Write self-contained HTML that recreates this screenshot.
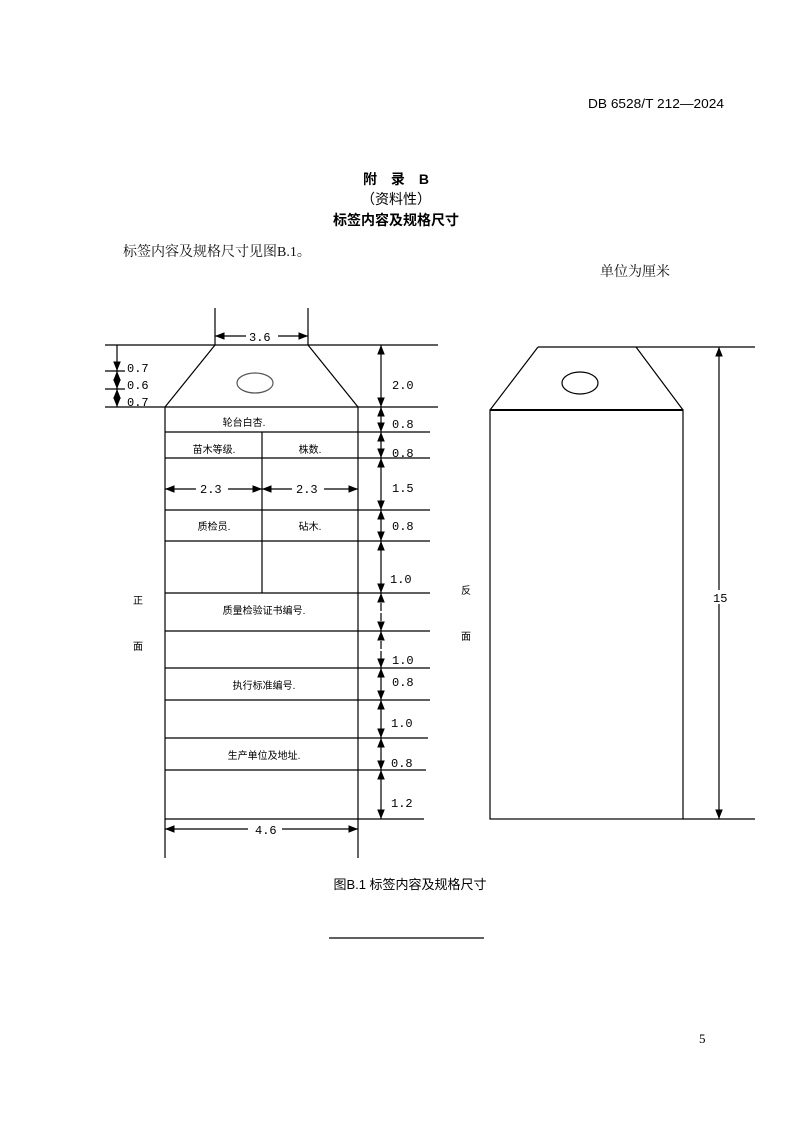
<!DOCTYPE html>
<html><head><meta charset="utf-8"><style>
html,body{margin:0;padding:0;background:#fff;}
svg{display:block;font-family:"Liberation Sans","Noto Sans CJK SC",sans-serif;}
.m{font-family:"Liberation Mono","Noto Sans CJK SC",monospace;}
.s{font-family:"Liberation Serif","Noto Serif CJK SC",serif;}
</style></head><body>
<svg width="793" height="1122" viewBox="0 0 793 1122" xmlns="http://www.w3.org/2000/svg">
<defs>
<marker id="a" viewBox="0 0 10 10" refX="10" refY="5" markerWidth="8" markerHeight="8" orient="auto-start-reverse"><path d="M0,1 L10,5 L0,9 z" fill="#000"/></marker>
</defs>
<text x="724" y="108" font-size="13" text-anchor="end" fill="#000" textLength="136" lengthAdjust="spacingAndGlyphs">DB 6528/T 212—2024</text>
<text x="396" y="184" font-size="14" text-anchor="middle" font-weight="bold">附　录　B</text>
<text x="396" y="204" font-size="14" text-anchor="middle">（资料性）</text>
<text x="396" y="225" font-size="14" text-anchor="middle" font-weight="bold">标签内容及规格尺寸</text>
<text x="123" y="256" font-size="14" class="s" fill="#111">标签内容及规格尺寸见图B.1。</text>
<text x="600" y="276" font-size="14" class="s" fill="#111">单位为厘米</text>

<g stroke="#000" stroke-width="1.2" fill="none">
<line x1="105" y1="345" x2="438" y2="345"/>
<line x1="215" y1="308" x2="215" y2="345"/>
<line x1="308" y1="308" x2="308" y2="345"/>
<line x1="215" y1="345" x2="165" y2="407"/>
<line x1="308" y1="345" x2="358" y2="407"/>
<line x1="105" y1="407" x2="438" y2="407"/>
<line x1="165" y1="407" x2="165" y2="858"/>
<line x1="358" y1="407" x2="358" y2="858"/>
<line x1="262" y1="432" x2="262" y2="593"/>
<line x1="165" y1="432" x2="430" y2="432"/>
<line x1="165" y1="458" x2="430" y2="458"/>
<line x1="165" y1="510" x2="430" y2="510"/>
<line x1="165" y1="541" x2="430" y2="541"/>
<line x1="165" y1="593" x2="430" y2="593"/>
<line x1="165" y1="631" x2="430" y2="631"/>
<line x1="165" y1="668" x2="430" y2="668"/>
<line x1="165" y1="700" x2="430" y2="700"/>
<line x1="165" y1="738" x2="428" y2="738"/>
<line x1="165" y1="770" x2="426" y2="770"/>
<line x1="165" y1="819" x2="424" y2="819"/>
<line x1="105" y1="371" x2="125" y2="371"/>
<line x1="105" y1="389" x2="125" y2="389"/>
<ellipse cx="255" cy="383" rx="18" ry="10" stroke="#555"/>
<line x1="215" y1="336" x2="308" y2="336" marker-start="url(#a)" marker-end="url(#a)"/>
<line x1="165" y1="489" x2="262" y2="489" marker-start="url(#a)" marker-end="url(#a)"/>
<line x1="262" y1="489" x2="358" y2="489" marker-start="url(#a)" marker-end="url(#a)"/>
<line x1="165" y1="829" x2="358" y2="829" marker-start="url(#a)" marker-end="url(#a)"/>
<line x1="117" y1="345" x2="117" y2="371" marker-end="url(#a)"/>
<line x1="117" y1="371" x2="117" y2="389" marker-start="url(#a)" marker-end="url(#a)"/>
<line x1="117" y1="389" x2="117" y2="407" marker-start="url(#a)" marker-end="url(#a)"/>
<line x1="381" y1="345" x2="381" y2="407" marker-start="url(#a)" marker-end="url(#a)"/>
<line x1="381" y1="407" x2="381" y2="432" marker-start="url(#a)" marker-end="url(#a)"/>
<line x1="381" y1="432" x2="381" y2="458" marker-start="url(#a)" marker-end="url(#a)"/>
<line x1="381" y1="458" x2="381" y2="510" marker-start="url(#a)" marker-end="url(#a)"/>
<line x1="381" y1="510" x2="381" y2="541" marker-start="url(#a)" marker-end="url(#a)"/>
<line x1="381" y1="541" x2="381" y2="593" marker-start="url(#a)" marker-end="url(#a)"/>
<line x1="381" y1="593" x2="381" y2="631" marker-start="url(#a)" marker-end="url(#a)" stroke-dasharray="8,2"/>
<line x1="381" y1="631" x2="381" y2="668" marker-start="url(#a)" marker-end="url(#a)" stroke-dasharray="8,2"/>
<line x1="381" y1="668" x2="381" y2="700" marker-start="url(#a)" marker-end="url(#a)"/>
<line x1="381" y1="700" x2="381" y2="738" marker-start="url(#a)" marker-end="url(#a)"/>
<line x1="381" y1="738" x2="381" y2="770" marker-start="url(#a)" marker-end="url(#a)"/>
<line x1="381" y1="770" x2="381" y2="819" marker-start="url(#a)" marker-end="url(#a)"/>
<line x1="538" y1="347" x2="755" y2="347"/>
<line x1="538" y1="347" x2="490" y2="410"/>
<line x1="636" y1="347" x2="683" y2="410"/>
<rect x="490" y="410" width="193" height="409"/>
<line x1="490" y1="410" x2="683" y2="410" stroke-width="2"/>
<line x1="683" y1="819" x2="755" y2="819"/>
<ellipse cx="580" cy="383" rx="18" ry="11"/>
<line x1="719" y1="347" x2="719" y2="819" marker-start="url(#a)" marker-end="url(#a)"/>
</g>

<g font-size="12" class="m" fill="#000">
<rect x="246" y="328" width="32" height="14" fill="#fff"/>
<text x="249" y="341">3.6</text>
<text x="127" y="372">0.7</text>
<text x="127" y="389">0.6</text>
<text x="127" y="406">0.7</text>
<text x="392" y="389">2.0</text>
<text x="392" y="428">0.8</text>
<text x="392" y="457">0.8</text>
<text x="392" y="492">1.5</text>
<text x="392" y="530">0.8</text>
<text x="390" y="583">1.0</text>
<text x="392" y="664">1.0</text>
<text x="392" y="686">0.8</text>
<text x="391" y="727">1.0</text>
<text x="391" y="767">0.8</text>
<text x="391" y="807">1.2</text>
<rect x="712" y="590" width="16" height="14" fill="#fff"/>
<text x="713" y="602">15</text>
<rect x="196" y="481" width="32" height="14" fill="#fff"/>
<text x="200" y="493">2.3</text>
<rect x="292" y="481" width="32" height="14" fill="#fff"/>
<text x="296" y="493">2.3</text>
<rect x="248" y="821" width="34" height="14" fill="#fff"/>
<text x="255" y="834">4.6</text>
</g>
<g font-size="10" text-anchor="middle" fill="#000">
<text x="244" y="426">轮台白杏.</text>
<text x="214" y="453">苗木等级.</text>
<text x="310" y="453">株数.</text>
<text x="214" y="530">质检员.</text>
<text x="310" y="530">砧木.</text>
<text x="264" y="614">质量检验证书编号.</text>
<text x="264" y="689">执行标准编号.</text>
<text x="264" y="759">生产单位及地址.</text>
<text x="138" y="604">正</text>
<text x="138" y="650">面</text>
<text x="466" y="594">反</text>
<text x="466" y="640">面</text>
</g>
<text x="410" y="889" font-size="13" text-anchor="middle">图B.1 标签内容及规格尺寸</text>
<line x1="329" y1="938" x2="484" y2="938" stroke="#000" stroke-width="1.2"/>
<text x="699" y="1043" font-size="13" class="s">5</text>
</svg>
</body></html>
